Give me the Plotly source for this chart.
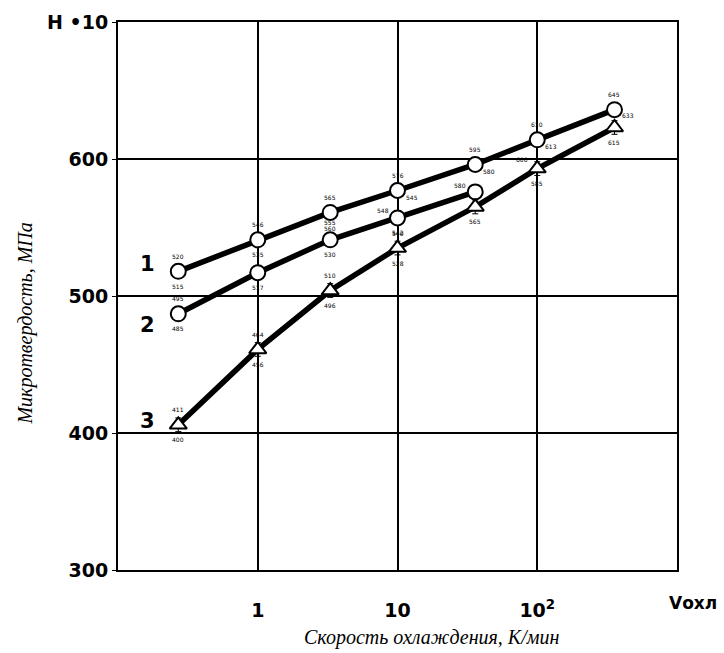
import plotly.graph_objects as go
import math

# Cooling rate, K/min (log scale)
x1 = [0.27, 1, 3.3, 10, 36, 100, 357]
h1 = [518, 541, 561, 577, 596, 614, 636]
x2 = [0.27, 1, 3.3, 10, 36]
h2 = [487, 517, 541, 557, 576]
x3 = [0.27, 1, 3.3, 10, 36, 100, 357]
h3 = [406, 461, 504, 535, 565, 593, 623]

# tiny measurement-range labels (approximate)
up1 = ['520', '546', '565', '576', '595', '610', '645']
lo1 = ['515', '535', '555', '545', '580', '613', '633']
up2 = ['495', '', '560', '548', '580']
lo2 = ['485', '517', '530', '542', '']
up3 = ['411', '464', '510', '540', '', '600', '']
lo3 = ['400', '456', '496', '528', '565', '585', '615']

series_labels = ['1', '2', '3']
ytickvals = [300, 400, 500, 600, 700]
yticktext = ['300', '400', '500', '600', 'H •10']
xtickvals = [1, 10, 100]
xticktext = ['1', '10', '10<sup>2</sup>']

fig = go.Figure()

def add_series(x, y, symbol):
    fig.add_trace(go.Scatter(
        x=x, y=y, mode='lines+markers',
        line=dict(color='black', width=5.5),
        marker=dict(symbol=symbol, size=15, color='white',
                    line=dict(color='black', width=2)),
        error_y=dict(type='constant', value=5, color='black', thickness=1, width=3),
        showlegend=False))

add_series(x1, h1, 'circle')
add_series(x2, h2, 'circle')
add_series(x3, h3, 'triangle-up')

# label placement overrides: (series, index, which) -> (xshift, yshift)
side = {
    (0, 3, 'lo'): (14, -7), (1, 3, 'up'): (-15, 7),
    (0, 4, 'lo'): (14, -7), (1, 4, 'up'): (-15, 6),
    (1, 2, 'up'): (0, 11), (0, 2, 'lo'): (0, -10),
    (0, 5, 'lo'): (14, -7), (2, 5, 'up'): (-15, 9),
    (0, 6, 'lo'): (14, -6),
}

ann = []
groups = [(x1, h1, up1, lo1), (x2, h2, up2, lo2), (x3, h3, up3, lo3)]
for si, (xs, ys, ups, los) in enumerate(groups):
    for i, (xv, yv, u, l) in enumerate(zip(xs, ys, ups, los)):
        for txt, which, ys0 in [(u, 'up', 15), (l, 'lo', -15)]:
            if not txt:
                continue
            xsft, ysft = side.get((si, i, which), (0, ys0))
            ann.append(dict(x=math.log10(xv), y=yv, text=txt, showarrow=False,
                            xshift=xsft, yshift=ysft,
                            font=dict(size=6, color='black', family='DejaVu Sans')))

for lab, yv in zip(series_labels, [523, 479, 409]):
    ann.append(dict(x=-0.79, y=yv, text='<b>' + lab + '</b>', showarrow=False,
                    font=dict(size=21, color='black', family='DejaVu Sans')))

ann.append(dict(xref='paper', yref='paper', x=1.075, y=-0.06, text='<b>Vохл</b>',
                showarrow=False, xanchor='right', yanchor='middle',
                font=dict(size=17, color='black', family='DejaVu Sans')))
ann.append(dict(xref='paper', yref='paper', x=0.56, y=-0.124,
                text='<i>Скорость охлаждения, К/мин</i>', showarrow=False,
                xanchor='center', yanchor='middle',
                font=dict(size=20, color='black', family='Liberation Serif')))
ann.append(dict(xref='paper', yref='paper', x=-0.166, y=0.45,
                text='<i>Микротвердость, МПа</i>', showarrow=False, textangle=-90,
                xanchor='center', yanchor='middle',
                font=dict(size=20, color='black', family='Liberation Serif')))

fig.update_layout(
    width=724, height=653,
    margin=dict(l=118, r=47, t=22, b=83),
    plot_bgcolor='white', paper_bgcolor='white',
    annotations=ann,
    xaxis=dict(type='log', range=[-1, 3], tickvals=xtickvals, ticktext=xticktext,
               showgrid=True, gridcolor='black', gridwidth=1.5,
               showline=True, linecolor='black', linewidth=2, mirror=True,
               ticks='', ticklabelstandoff=22, zeroline=False,
               tickfont=dict(size=19, color='black', family='DejaVu Sans', weight='bold')),
    yaxis=dict(range=[300, 700], tickvals=ytickvals, ticktext=yticktext,
               showgrid=True, gridcolor='black', gridwidth=1.5,
               showline=True, linecolor='black', linewidth=2, mirror=True,
               ticks='outside', ticklen=4, tickcolor='black', zeroline=False,
               ticklabelstandoff=0,
               tickfont=dict(size=19, color='black', family='DejaVu Sans', weight='bold')),
)

fig.write_html("out.html", config={'displayModeBar': False},
               post_script="document.body.style.margin='0px';")
